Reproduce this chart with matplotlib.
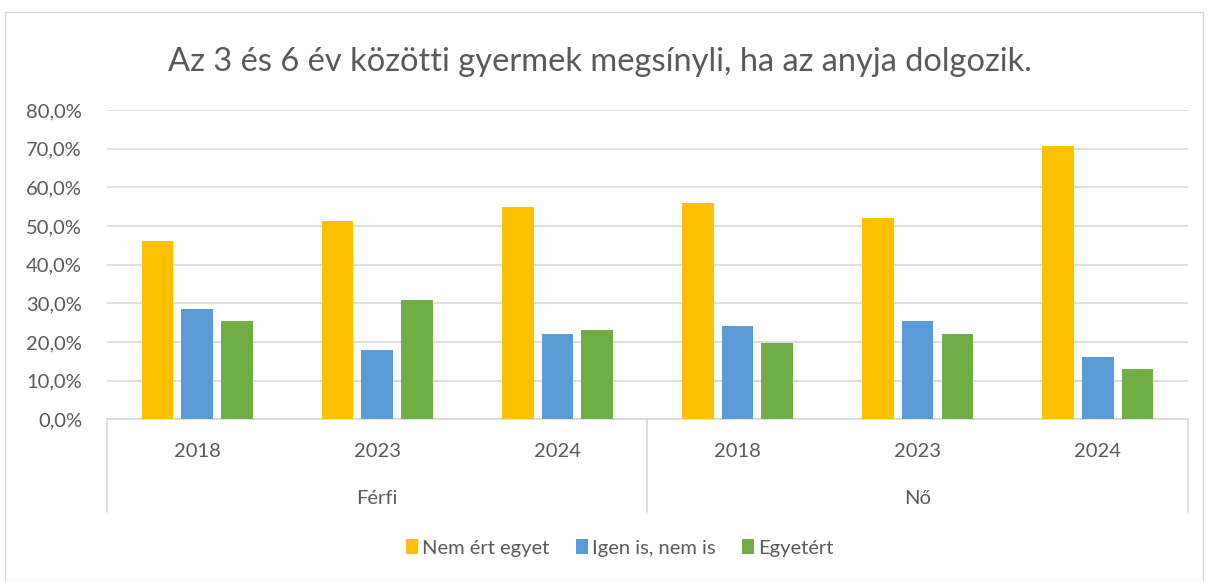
import numpy as np
import matplotlib
matplotlib.use("Agg")
import matplotlib.pyplot as plt
from matplotlib.patches import Rectangle
from matplotlib.ticker import FuncFormatter

title = "Az 3 és 6 év közötti gyermek megsínyli, ha az anyja dolgozik."
years = ["2018", "2023", "2024", "2018", "2023", "2024"]
groups = ["Férfi", "Nő"]
series_names = ["Nem ért egyet", "Igen is, nem is", "Egyetért"]
nem_ert_egyet = [46.0, 51.2, 54.8, 55.9, 52.1, 70.7]
igen_is_nem_is = [28.5, 17.9, 22.0, 24.2, 25.5, 16.2]
egyetert = [25.4, 30.8, 23.1, 19.7, 22.1, 13.0]
colors = ["#FFC000", "#5B9BD5", "#70AD47"]

plt.rcParams["font.family"] = ["Lato", "DejaVu Sans"]
text_color = "#595959"
grid_color = "#D9D9D9"


def main():
    fig = plt.figure(figsize=(12.08, 5.81), dpi=100)
    fig.patches.append(Rectangle((0.004, 0.0), 0.992, 0.98, transform=fig.transFigure,
                                 fill=False, edgecolor=grid_color, linewidth=1))

    ax = fig.add_axes([0.0886, 0.2783, 0.8948, 0.5324])
    x = np.arange(len(years))
    width = 0.175
    offsets = [-0.22, 0.0, 0.22]
    data = [nem_ert_egyet, igen_is_nem_is, egyetert]
    for vals, off, c, name in zip(data, offsets, colors, series_names):
        ax.bar(x + off, vals, width=width, color=c, label=name, zorder=3)

    ax.set_xlim(-0.5, len(years) - 0.5)
    ax.set_ylim(0, 80)
    ax.set_yticks(np.arange(0, 81, 10))
    ax.yaxis.set_major_formatter(FuncFormatter(lambda v, p: f"{v:.1f}%".replace(".", ",")))
    ax.tick_params(axis="y", length=0, labelsize=14.5, labelcolor=text_color, pad=18)
    ax.set_xticks([])
    ax.grid(axis="y", color=grid_color, linewidth=1.2, zorder=0)
    for s in ["top", "right", "left"]:
        ax.spines[s].set_visible(False)
    ax.spines["bottom"].set_color(grid_color)
    ax.spines["bottom"].set_linewidth(1.2)

    # two-level category axis
    trans = ax.get_xaxis_transform()
    for xi, yr in zip(x, years):
        ax.text(xi, -0.105, yr, transform=trans, ha="center", va="center",
                fontsize=14.5, color=text_color)
    for gi, g in enumerate(groups):
        ax.text(gi * 3 + 1, -0.255, g, transform=trans, ha="center", va="center",
                fontsize=14.5, color=text_color)
    for xb in [-0.5, 2.5, 5.5]:
        ax.plot([xb, xb], [0, -0.30], transform=trans, color=grid_color,
                linewidth=1.2, clip_on=False)

    fig.text(0.497, 0.893, title, ha="center", va="center", fontsize=23.5, color=text_color)

    leg = fig.legend(loc="center", bbox_to_anchor=(0.513, 0.057), ncol=3, frameon=False,
                     fontsize=14.5, handlelength=0.6, handleheight=0.8,
                     handletextpad=0.2, columnspacing=1.3)
    for t in leg.get_texts():
        t.set_color(text_color)

    fig.savefig("out.png", dpi=100)
    plt.close(fig)


if __name__ == "__main__":
    main()
